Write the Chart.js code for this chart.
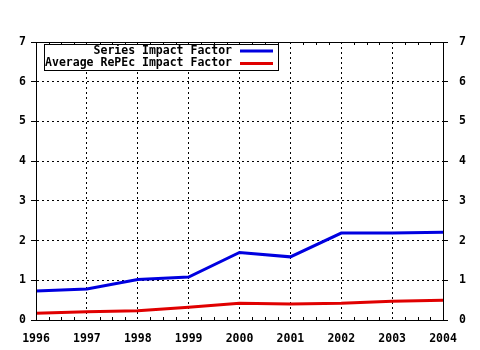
<!DOCTYPE html>
<html>
<head>
<meta charset="utf-8">
<script src="https://cdn.jsdelivr.net/npm/chart.js@4"></script>
<style>
  html, body { margin: 0; padding: 0; background: #fff; }
  #wrap { width: 480px; height: 350px; }
</style>
</head>
<body>
<div id="wrap"><canvas id="impactChart" width="480" height="350"></canvas></div>
<script>
const years = [1996, 1997, 1998, 1999, 2000, 2001, 2002, 2003, 2004];
const seriesImpact = [0.73, 0.78, 1.02, 1.08, 1.70, 1.59, 2.19, 2.19, 2.21];
const repecAverage = [0.17, 0.21, 0.23, 0.32, 0.42, 0.40, 0.42, 0.47, 0.50];
const seriesNames = ['Series Impact Factor', 'Average RePEc Impact Factor'];
const seriesColors = ['#0000e0', '#e00000'];

const FONT = 'bold 11.5px "DejaVu Sans Mono", "Liberation Mono", monospace';
const tickFont = { family: '"DejaVu Sans Mono", monospace', size: 11.5, weight: 'bold' };

// solid frame, minor ticks and the boxed legend
const framePlugin = {
    id: 'frame',
    afterDatasetsDraw(chart) {
        const c = chart.ctx;
        const a = chart.chartArea;
        const x = chart.scales.x;
        c.save();
        c.strokeStyle = '#000';
        c.lineWidth = 1;
        c.setLineDash([]);
        c.beginPath();
        c.rect(Math.round(a.left) + 0.5, Math.round(a.top) + 0.5,
               Math.round(a.right - a.left), Math.round(a.bottom - a.top));
        // quarter-year minor ticks, top and bottom
        for (let i = 0; i < years.length - 1; i++) {
            for (let k = 1; k < 4; k++) {
                const px = Math.round(x.getPixelForValue(years[i] + k / 4)) + 0.5;
                c.moveTo(px, a.bottom);
                c.lineTo(px, a.bottom - 3);
                c.moveTo(px, a.top);
                c.lineTo(px, a.top + 3);
            }
        }
        c.stroke();

        // legend box
        const bx = 44.5, by = 44.5, bw = 234, bh = 26;
        c.fillStyle = '#fff';
        c.fillRect(bx, by, bw, bh);
        c.strokeRect(bx, by, bw, bh);
        c.font = FONT;
        c.textAlign = 'right';
        c.textBaseline = 'middle';
        chart.data.datasets.forEach((ds, i) => {
            const ly = by + 6.5 + i * 12.5;
            c.fillStyle = '#000';
            c.fillText(ds.label, 232, ly);
            c.strokeStyle = ds.borderColor;
            c.lineWidth = 3;
            c.beginPath();
            c.moveTo(240, ly);
            c.lineTo(273, ly);
            c.stroke();
        });
        c.restore();
    }
};

const ctx = document.getElementById('impactChart').getContext('2d');
const impactChart = new Chart(ctx, {
    type: 'line',
    data: {
        datasets: [seriesImpact, repecAverage].map((vals, i) => ({
            label: seriesNames[i],
            data: vals.map((v, j) => ({ x: years[j], y: v })),
            borderColor: seriesColors[i],
            borderWidth: 3,
            pointRadius: 0,
            tension: 0,
            fill: false
        }))
    },
    options: {
        responsive: false,
        animation: false,
        layout: { padding: { top: 42, left: 0, right: 0, bottom: 0 } },
        plugins: {
            legend: { display: false },
            tooltip: { enabled: false }
        },
        scales: {
            x: {
                type: 'linear',
                min: 1996,
                max: 2004,
                afterFit: s => { s.height = 30; },
                ticks: {
                    stepSize: 1,
                    padding: 12,
                    color: '#000',
                    font: tickFont,
                    callback: v => String(v)
                },
                grid: { color: '#000', drawTicks: false },
                border: { display: true, color: '#000', width: 1, dash: [2, 3] }
            },
            y: {
                position: 'left',
                min: 0,
                max: 7,
                afterFit: s => { s.width = 36; },
                ticks: { stepSize: 1, padding: 5, color: '#000', font: tickFont },
                grid: { color: '#000', tickLength: 5, tickColor: '#000', tickBorderDash: [] },
                border: { display: true, color: '#000', width: 1, dash: [2, 3] }
            },
            y2: {
                position: 'right',
                min: 0,
                max: 7,
                afterFit: s => { s.width = 37; },
                ticks: { stepSize: 1, padding: 11, color: '#000', font: tickFont },
                grid: { drawOnChartArea: false, tickLength: 5, color: '#000' },
                border: { display: true, color: '#000', width: 1 }
            }
        }
    },
    plugins: [framePlugin]
});
</script>
</body>
</html>
